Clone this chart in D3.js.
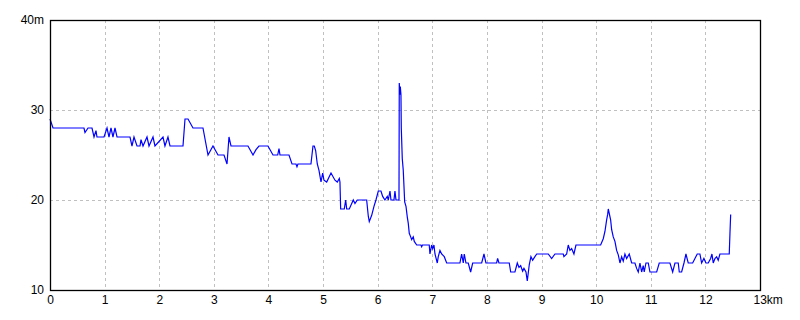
<!DOCTYPE html>
<html>
<head>
<meta charset="utf-8">
<script src="https://cdn.jsdelivr.net/npm/d3@7"></script>
<style>
  body { margin: 0; background: #fff; }
  #chart1 { width: 800px; height: 320px; }
  text { font-family: "Liberation Sans", Arial, sans-serif; font-size: 12px; fill: #000; }
</style>
</head>
<body>
<div id="chart1"></div>
<script>

// distance (km) and elevation (m)
var distKm = [0, 0.055, 0.622, 0.641, 0.696, 0.769, 0.806, 0.842, 0.860, 0.989,
    1.044, 1.080, 1.117, 1.153, 1.190, 1.227, 1.465, 1.501, 1.538, 1.593,
    1.648, 1.666, 1.703, 1.776, 1.813, 1.886, 1.922, 2.069, 2.105, 2.160,
    2.197, 2.435, 2.472, 2.527, 2.618, 2.801, 2.893, 2.984, 3.076, 3.186,
    3.241, 3.277, 3.314, 3.625, 3.717, 3.772, 3.826, 3.991, 4.083, 4.169,
    4.193, 4.211, 4.376, 4.431, 4.504, 4.522, 4.540, 4.778, 4.815, 4.839,
    4.864, 4.894, 4.925, 4.962, 4.993, 5.016, 5.066, 5.145, 5.218, 5.260,
    5.297, 5.309, 5.322, 5.388, 5.414, 5.432, 5.480, 5.553, 5.584, 5.626,
    5.798, 5.828, 5.846, 5.890, 5.932, 5.968, 6.011, 6.060, 6.091, 6.133,
    6.175, 6.194, 6.225, 6.243, 6.298, 6.316, 6.335, 6.377, 6.390, 6.395,
    6.408, 6.414, 6.426, 6.432, 6.450, 6.468, 6.494, 6.518, 6.542, 6.560,
    6.578, 6.604, 6.622, 6.651, 6.670, 6.714, 6.792, 6.805, 6.820, 6.944,
    6.957, 6.988, 7.007, 7.030, 7.049, 7.091, 7.109, 7.140, 7.171, 7.219,
    7.263, 7.506, 7.537, 7.567, 7.585, 7.616, 7.658, 7.702, 7.739, 7.904,
    7.946, 7.982, 8.178, 8.196, 8.220, 8.409, 8.435, 8.513, 8.556, 8.587,
    8.618, 8.654, 8.678, 8.715, 8.739, 8.775, 8.806, 8.837, 8.867, 8.911,
    9.123, 9.185, 9.246, 9.398, 9.410, 9.460, 9.489, 9.520, 9.551, 9.593,
    9.630, 10.082, 10.130, 10.161, 10.192, 10.211, 10.222, 10.240, 10.265, 10.284,
    10.313, 10.344, 10.375, 10.405, 10.436, 10.467, 10.496, 10.527, 10.558, 10.606,
    10.650, 10.710, 10.741, 10.771, 10.802, 10.833, 10.862, 10.880, 10.912, 10.954,
    10.985, 11.108, 11.155, 11.351, 11.401, 11.443, 11.503, 11.522, 11.565, 11.608,
    11.644, 11.686, 11.767, 11.851, 11.900, 11.931, 11.973, 12.010, 12.052, 12.096,
    12.120, 12.144, 12.175, 12.206, 12.235, 12.266, 12.437, 12.450, 12.463];

var elevM = [29, 28, 28, 27.5, 28, 28, 27, 27.7, 27, 27,
    28, 27, 28, 27, 28, 27, 27, 26, 27, 26,
    26, 26.7, 26, 27, 26, 27, 26, 27, 26, 27,
    26, 26, 29, 29, 28, 28, 25, 26, 25, 25,
    24, 27, 26, 26, 25, 25.6, 26, 26, 25, 25,
    25.7, 25, 25, 24, 24, 23.7, 24, 24, 26, 26,
    25.5, 24, 23.3, 22, 23, 22.2, 22, 23, 22.2, 22,
    22.4, 22, 19, 19, 20, 19, 19, 20, 19.6, 20,
    20, 18.2, 17.6, 18.3, 19.3, 20, 21, 21, 20.4, 20,
    20.4, 20, 21, 20, 20, 21, 20, 20, 20, 33,
    31.7, 32.6, 31.7, 28, 24.6, 23.3, 19.8, 19.3, 18.1, 17.4,
    16.3, 15.9, 15.6, 15.9, 15.4, 15, 15, 14.8, 15, 15,
    14, 15, 14.6, 15, 14, 13, 13.7, 14.4, 14, 13.7,
    13, 13, 14, 13, 14, 13, 13, 12, 13, 13,
    14, 13, 13, 13.5, 13, 13, 12, 12, 13, 12.5,
    12.7, 12.1, 12.4, 12, 11, 12.8, 13.7, 13.3, 13.6, 14,
    14, 13.5, 14, 14, 13.7, 14, 15, 14.4, 14.6, 14,
    15, 15, 15.7, 16.5, 17.8, 18.4, 19, 18.5, 17.8, 16.7,
    15.9, 15.4, 14.4, 13.9, 13, 13.7, 13.2, 14, 13.5, 14,
    13, 13, 12.4, 12, 13, 12, 12.7, 12, 13, 13,
    12, 12, 13, 13, 12, 13, 13, 12, 12, 13,
    14, 13, 13, 14, 14, 13, 13.5, 13, 13, 13.5,
    14, 13, 13.5, 13.7, 13.3, 14, 14, 16.3, 18.4];

var xTicks = [0, 1, 2, 3, 4, 5, 6, 7, 8, 9, 10, 11, 12, 13];
var yTicks = [10, 20, 30, 40];

var width = 800;
var height = 320;
var margin = { top: 20, right: 40, bottom: 30, left: 50 };

var svg = d3.select("#chart1")
    .append("svg")
    .attr("width", width)
    .attr("height", height);

var x = d3.scaleLinear()
    .domain([0, 13])
    .range([margin.left, width - margin.right]);

var y = d3.scaleLinear()
    .domain([10, 40])
    .range([height - margin.bottom, margin.top]);

// dashed grid
svg.selectAll(".vgrid")
    .data(xTicks.slice(1, -1))
    .enter().append("line")
        .attr("class", "vgrid")
        .attr("x1", function(d) { return Math.round(x(d)) + 0.5; })
        .attr("x2", function(d) { return Math.round(x(d)) + 0.5; })
        .attr("y1", y(40))
        .attr("y2", y(10))
        .attr("stroke", "#c0c0c0")
        .attr("stroke-dasharray", "3,3");

svg.selectAll(".hgrid")
    .data(yTicks.slice(1, -1))
    .enter().append("line")
        .attr("class", "hgrid")
        .attr("x1", x(0))
        .attr("x2", x(13))
        .attr("y1", function(d) { return Math.round(y(d)) + 0.5; })
        .attr("y2", function(d) { return Math.round(y(d)) + 0.5; })
        .attr("stroke", "#c0c0c0")
        .attr("stroke-dasharray", "3,3");

// profile line
var points = distKm.map(function(d, i) { return [d, elevM[i]]; });

var line = d3.line()
    .x(function(d) { return x(d[0]); })
    .y(function(d) { return y(d[1]); });

svg.append("path")
    .datum(points)
    .attr("d", line)
    .attr("fill", "none")
    .attr("stroke", "#0000ff")
    .attr("stroke-width", 1.2);

// frame
svg.append("rect")
    .attr("x", x(0) + 0.5)
    .attr("y", y(40) + 0.5)
    .attr("width", x(13) - x(0))
    .attr("height", y(10) - y(40))
    .attr("fill", "none")
    .attr("stroke", "#000")
    .attr("stroke-width", 1.3);

// axes (labels only, frame is drawn above)
var xAxis = svg.append("g")
    .attr("transform", "translate(0," + (y(10) + 2) + ")")
    .call(d3.axisBottom(x)
        .tickValues(xTicks)
        .tickSize(0)
        .tickFormat(function(d) { return d == 13 ? "13km" : d; }));

var yAxis = svg.append("g")
    .attr("transform", "translate(" + (x(0) - 6) + ",0)")
    .call(d3.axisLeft(y)
        .tickValues(yTicks)
        .tickSize(0)
        .tickFormat(function(d) { return d == 40 ? "40m" : d; }));

svg.selectAll(".domain").remove();
svg.selectAll(".tick text")
    .attr("font-family", null)
    .attr("font-size", null);
yAxis.selectAll(".tick text").attr("x", 0);

// "13km": keep the number centered on its tick
xAxis.selectAll(".tick text")
    .filter(function(d) { return d == 13; })
    .attr("text-anchor", "start")
    .attr("x", -7);

</script>
</body>
</html>
